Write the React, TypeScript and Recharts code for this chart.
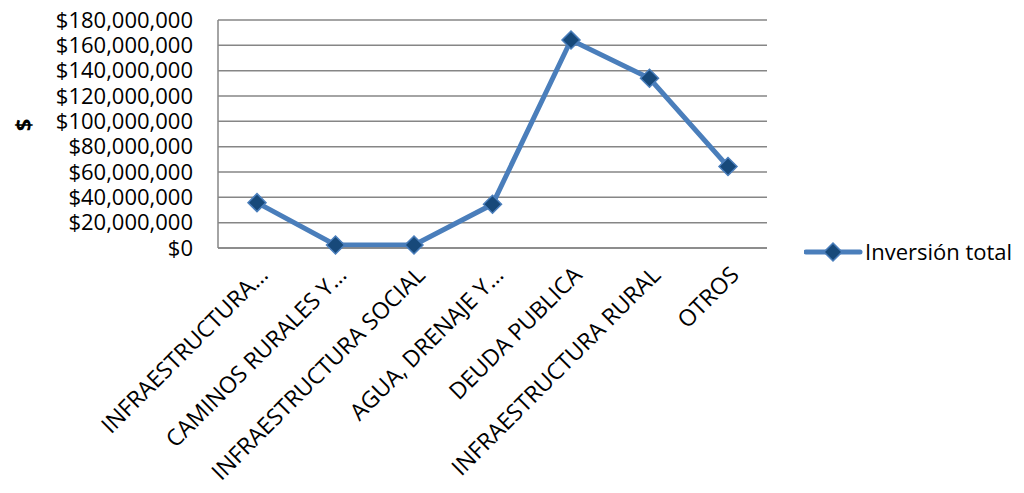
import React from 'react'
import { LineChart, Line, XAxis, YAxis, CartesianGrid } from 'recharts'

const categories = [
    'INFRAESTRUCTURA…',
    'CAMINOS RURALES Y…',
    'INFRAESTRUCTURA SOCIAL',
    'AGUA, DRENAJE Y…',
    'DEUDA PUBLICA',
    'INFRAESTRUCTURA RURAL',
    'OTROS',
]
const inversionTotal = [35800000, 2400000, 2400000, 34500000, 164200000, 134000000, 64300000]
const yTicks = [0, 20000000, 40000000, 60000000, 80000000, 100000000, 120000000, 140000000, 160000000, 180000000]

const data = categories.map((name, i) => ({ name, inversion: inversionTotal[i] }))

const FONT = '"Open Sans", "Noto Sans", sans-serif'
const LINE_COLOR = '#4A7EBB'
const MARKER_FILL = '#17497A'
const GRID = '#868686'

const Diamond = (props: any) => {
    const { cx, cy } = props
    if (cx == null || cy == null) return null
    const r = 9
    return (
        <path
            d={`M${cx},${cy - r} L${cx + r},${cy} L${cx},${cy + r} L${cx - r},${cy} Z`}
            fill={MARKER_FILL}
            stroke={LINE_COLOR}
            strokeWidth={1.5}
        />
    )
}

const CategoryTick = (props: any) => {
    const { x, y, payload } = props
    return (
        <g transform={`translate(${x + 1},${y + 9})`}>
            <text
                x={0}
                y={0}
                dy="0.7em"
                textAnchor="end"
                transform="rotate(-45)"
                fontSize={23}
                fontFamily={FONT}
                fill="#000"
            >
                {payload.value}
            </text>
        </g>
    )
}

export default function App() {
    return (
        <div style={{ position: 'relative', width: 1008, height: 477 }}>
            <LineChart
                width={1008}
                height={477}
                data={data}
                margin={{ top: 12, right: 249, left: 0, bottom: 0 }}
            >
                <CartesianGrid vertical={false} stroke={GRID} strokeWidth={1.5} />
                <XAxis
                    dataKey="name"
                    height={237}
                    interval={0}
                    padding={{ left: 39, right: 39 }}
                    tick={<CategoryTick />}
                    tickLine={false}
                    axisLine={{ stroke: GRID, strokeWidth: 1.5 }}
                />
                <YAxis
                    width={210}
                    domain={[0, 180000000]}
                    ticks={yTicks}
                    interval={0}
                    tickLine={false}
                    axisLine={{ stroke: GRID, strokeWidth: 1.5 }}
                    tick={{ fontSize: 22, fontFamily: FONT, fill: '#000', dx: -17 }}
                    tickFormatter={(v: number) => '$' + v.toLocaleString('en-US')}
                    label={{
                        content: () => (
                            <text
                                x={14}
                                y={117}
                                textAnchor="middle"
                                dominantBaseline="central"
                                transform="rotate(-90 14 117)"
                                fontSize={22}
                                fontWeight="bold"
                                fontFamily={FONT}
                                fill="#000"
                            >
                                $
                            </text>
                        ),
                    }}
                />
                <Line
                    type="linear"
                    dataKey="inversion"
                    stroke={LINE_COLOR}
                    strokeWidth={5}
                    dot={<Diamond />}
                    activeDot={false}
                    isAnimationActive={false}
                />
            </LineChart>
            {/* legend on the right, outside the plot */}
            <svg width={212} height={30} style={{ position: 'absolute', left: 796, top: 229 }}>
                <line x1={2} y1={15} x2={56} y2={15} stroke={LINE_COLOR} strokeWidth={5} strokeLinecap="round" />
                <Diamond cx={29} cy={15} />
                <text x={61} y={23} fontSize={22} fontFamily={FONT} fill="#000">Inversión total</text>
            </svg>
        </div>
    )
}
